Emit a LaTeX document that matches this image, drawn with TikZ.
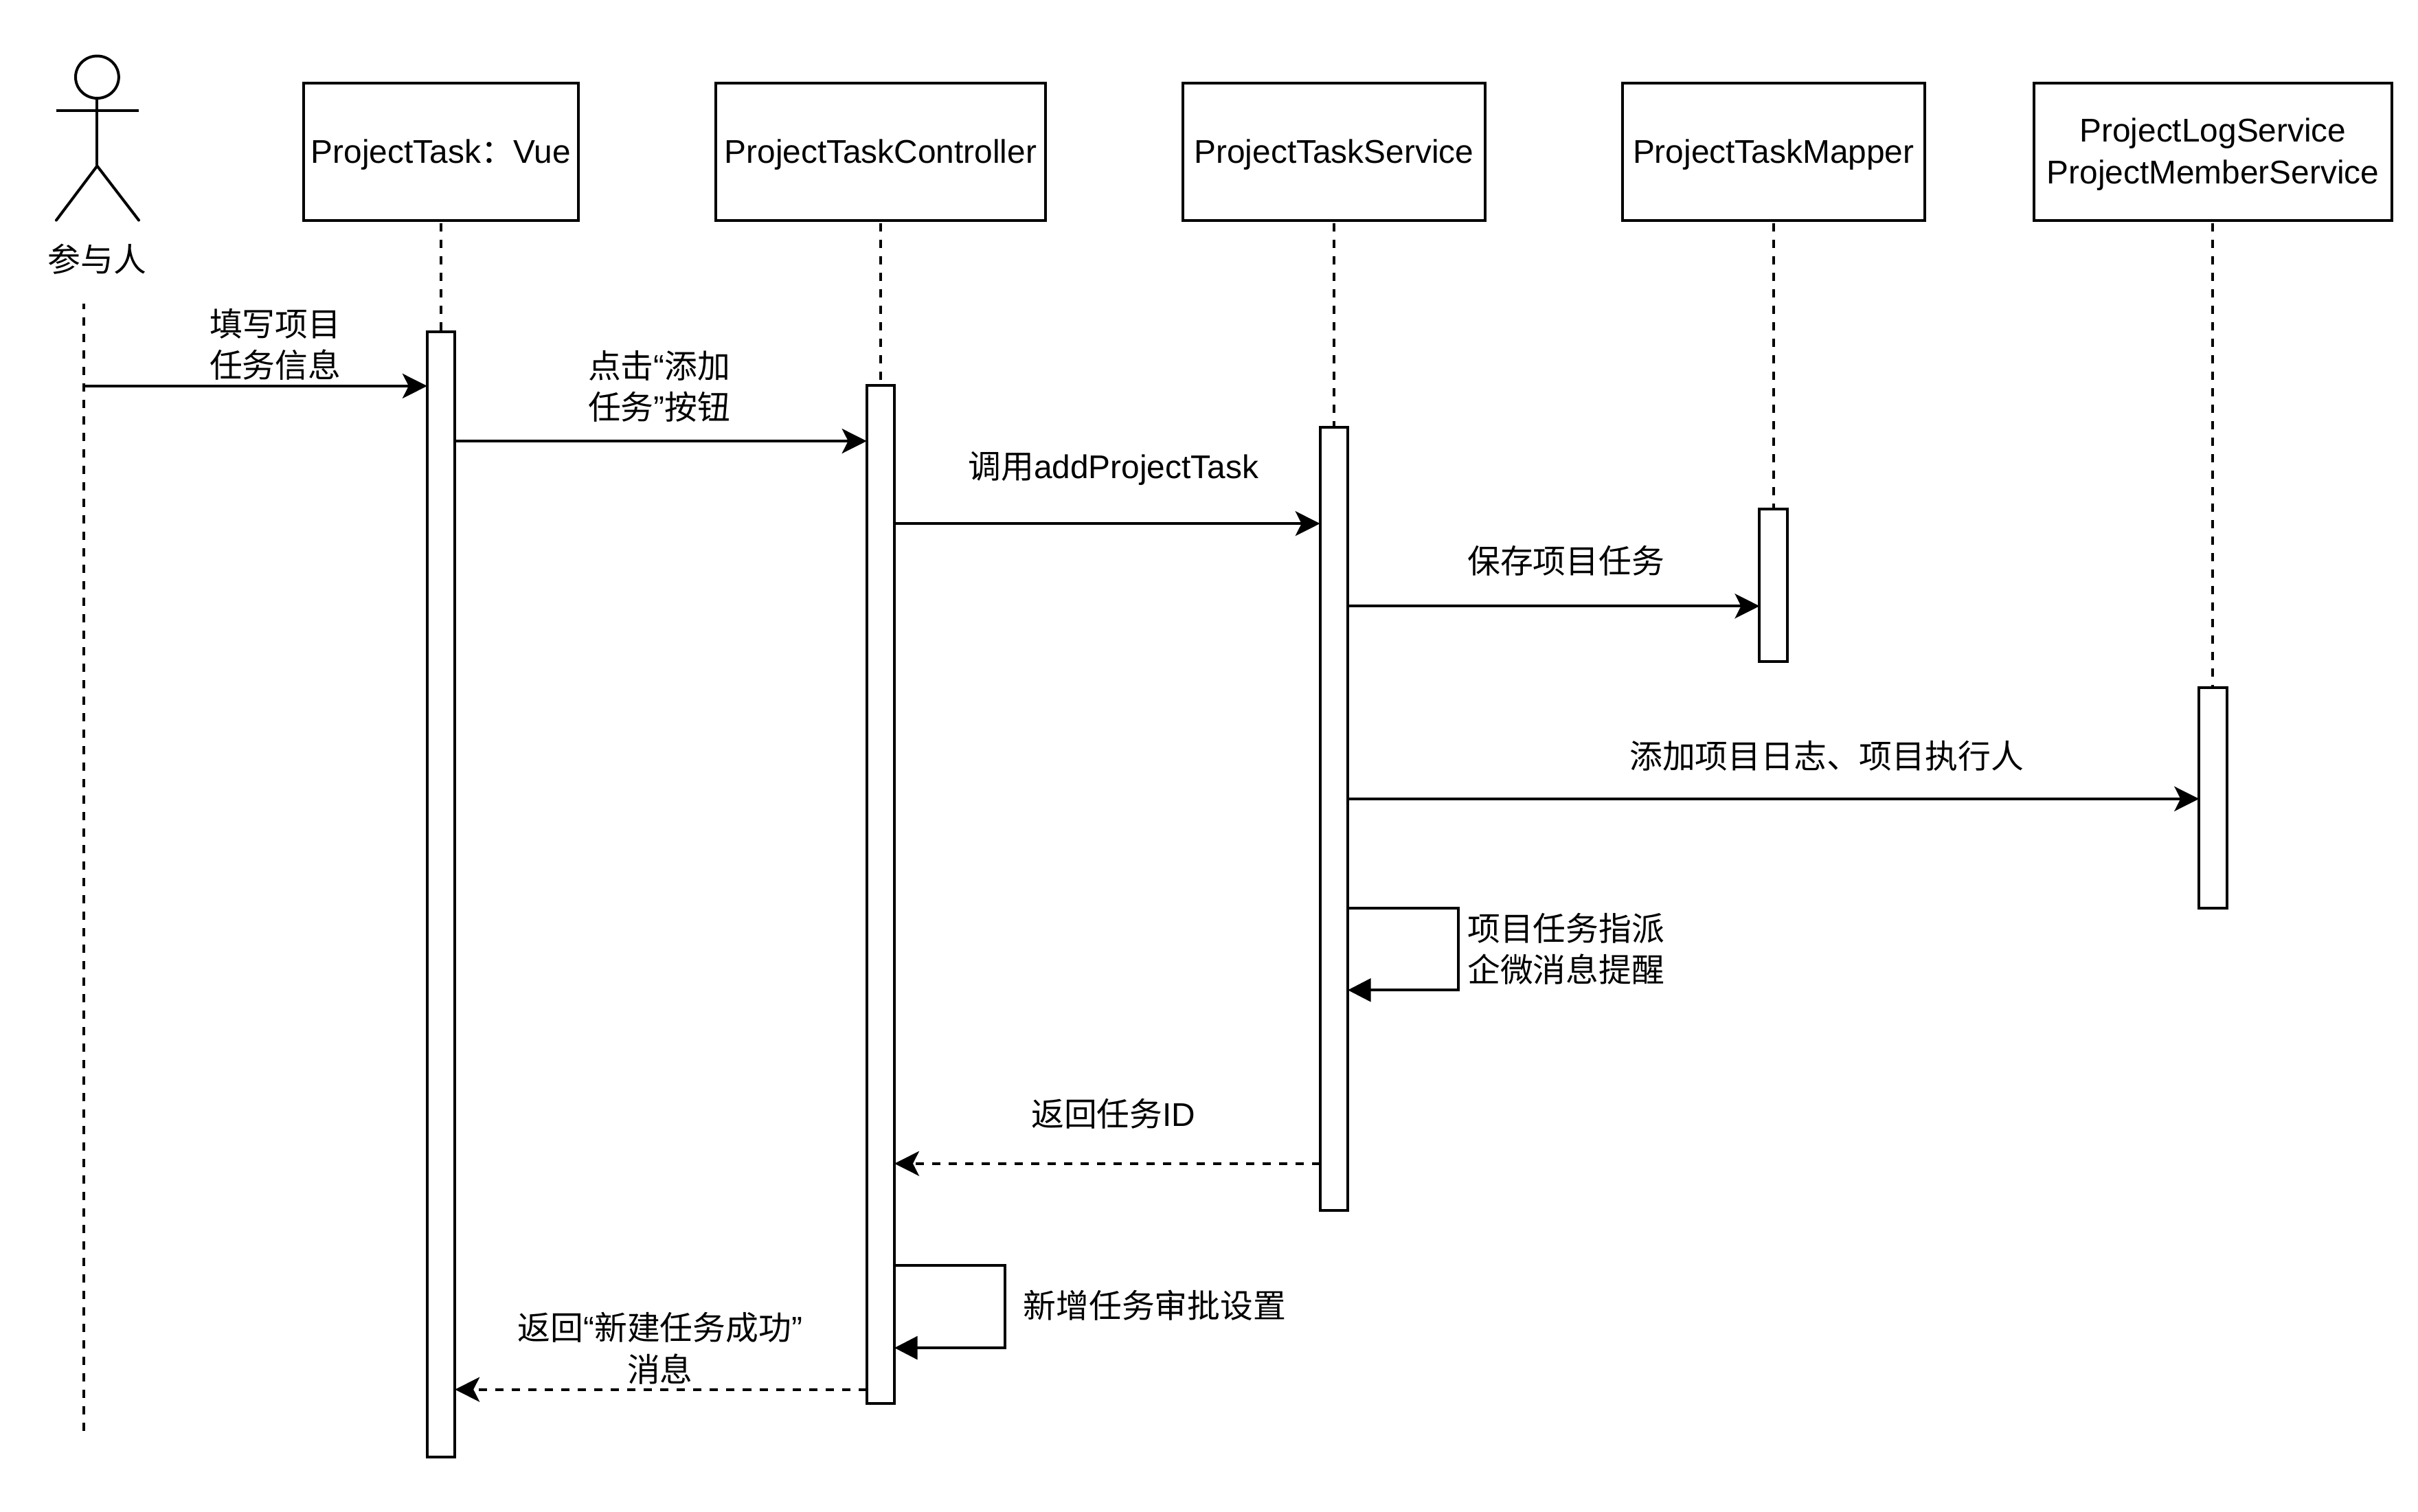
\documentclass[tikz,border=0pt]{standalone}
\usepackage{fontspec}
\setmainfont{Liberation Sans}
\newfontfamily\cjk{Noto Sans CJK SC}
\usepackage{tikz}
\usetikzlibrary{positioning, arrows.meta}
\newcommand{\boxup}{\rule{0pt}{18.6pt}}

\begin{document}
\begin{tikzpicture}[x=1pt,y=1pt,line width=1.78pt,
  lbl/.style={font=\fontsize{21.3}{26.8}\selectfont,align=center,inner sep=0pt},
  box/.style={lbl,draw,fill=white,outer sep=0pt,minimum height=89pt},
  bar/.style={draw,fill=white,inner sep=0pt,outer sep=0pt,minimum width=18pt},
  life/.style={dash pattern=on 5.35pt off 5.35pt,dash phase=9pt},
  msg/.style={-{Stealth[length=16pt,width=16pt,inset=4pt]}},
  ret/.style={msg,dash pattern=on 5.35pt off 5.35pt},
  selfmsg/.style={-{Triangle[length=15pt,width=15pt]}}]
\useasboundingbox (0,0) rectangle (1568,-980);

% heads of the lifelines
\node[box,minimum width=178pt] (boxVue) at (286,-98.5) {\boxup ProjectTask{\cjk ：}Vue};
\node[box,minimum width=214pt] (boxCtl) at (571,-98.5) {\boxup ProjectTaskController};
\node[box,minimum width=196pt] (boxSvc) at (865,-98.5) {\boxup ProjectTaskService};
\node[box,minimum width=196pt] (boxMap) at (1150,-98.5) {\boxup ProjectTaskMapper};
\node[box,minimum width=232pt] (boxLog) at (1435,-98.5) {\boxup ProjectLogService\\ProjectMemberService};

% activation bars
\foreach \n/\x/\t/\b in {barVue/286/215/945,barCtl/571/250/910,barSvc/865/277/785,barMap/1150/330/429,barLog/1435/446/589}{
  \node[bar,minimum height=\b pt-\t pt] (\n) at (\x,{-(\t+\b)/2}) {};
}

% actor
\draw (63,-50) ellipse (14 and 13.7);
\draw (36.5,-71.7) -- (90,-71.7);
\draw (63,-63.7) -- (63,-107.6);
\draw[line cap=round] (36.5,-142.8) -- (63,-107.6) -- (90,-142.8);
\node[lbl] (actorName) at (63,-168) {\cjk 参与人};
\coordinate (actorTop) at (54.3,-196.8);
\coordinate (actorEnd) at (54.3,-928);

% lifelines
\draw[life,dash phase=1.8pt] (actorTop) -- (actorEnd);
\foreach \p in {Vue,Ctl,Svc,Map,Log}{\draw[life] (box\p) -- (bar\p);}

% message heights
\foreach \n/\y in {m1/250.3,m2/286,m3/339.5,m4/393,m5/518,m6/589,m7/642,m8/754.5,m9/820.5,m10/874,m11/901}{
  \coordinate (\n) at (0,-\y);
}
\coordinate (turnSvc) at (945.5,-589);
\coordinate (turnCtl) at (651.5,-820.5);

% messages
\draw[msg] (actorTop |- m1) -- (barVue.west |- m1);
\draw[msg] (barVue.east |- m2) -- (barCtl.west |- m2);
\draw[msg] (barCtl.east |- m3) -- (barSvc.west |- m3);
\draw[msg] (barSvc.east |- m4) -- (barMap.west |- m4);
\draw[msg] (barSvc.east |- m5) -- (barLog.west |- m5);
\draw[selfmsg] (barSvc.east |- m6) -- (turnSvc) |- (barSvc.east |- m7);
\draw[ret] (barSvc.west |- m8) -- (barCtl.east |- m8);
\draw[selfmsg] (barCtl.east |- m9) -- (turnCtl) |- (barCtl.east |- m10);
\draw[ret] (barCtl.west |- m11) -- (barVue.east |- m11);

% labels
\node[lbl] (lblFill) at (178.5,-223.5) {\cjk 填写项目\\\cjk 任务信息};
\node[lbl] (lblClick) at (427.5,-250.5) {{\cjk 点击}“{\cjk 添加}\\{\cjk 任务}”{\cjk 按钮}};
\node[lbl] (lblCall) at (722,-303.8) {{\cjk 调用}addProjectTask};
\node[lbl] (lblSave) at (1015.5,-363.5) {\cjk 保存项目任务};
\node[lbl] (lblLog) at (1184.5,-490) {\cjk 添加项目日志、项目执行人};
\node[lbl] (lblNotify) at (1015.5,-615.5) {\cjk 项目任务指派\\\cjk 企微消息提醒};
\node[lbl] (lblId) at (722,-722) {{\cjk 返回任务}ID};
\node[lbl] (lblAudit) at (748.8,-846.5) {\cjk 新增任务审批设置};
\node[lbl] (lblDone) at (428,-874.3) {{\cjk 返回}“{\cjk 新建任务成功}”\\{\cjk 消息}};
\end{tikzpicture}
\end{document}
